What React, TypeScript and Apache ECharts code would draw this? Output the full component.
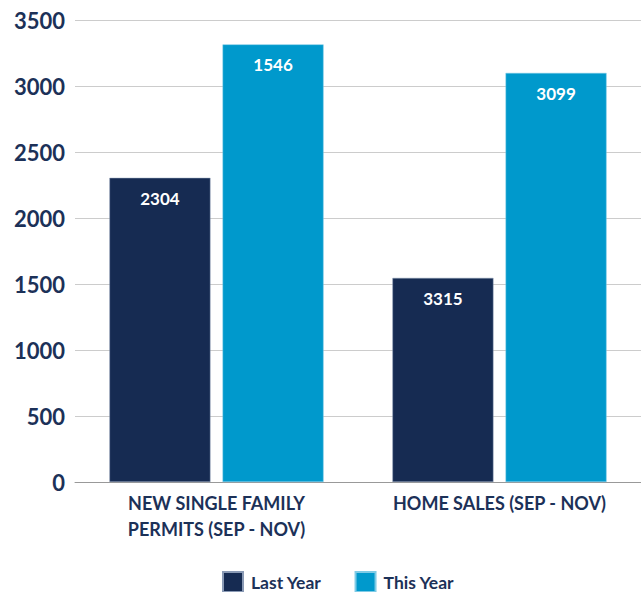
import React, { useEffect, useRef } from "react";
import * as echarts from "echarts";

const categories = ["NEW SINGLE FAMILY\nPERMITS (SEP - NOV)", "HOME SALES (SEP - NOV)"];
const lastYearValues = [2304, 1546];
const thisYearValues = [3315, 3099];
const lastYearLabels = ["2304", "3315"];
const thisYearLabels = ["1546", "3099"];
const seriesNames = ["Last Year", "This Year"];

const NAVY = "#162b52";
const BLUE = "#0099cc";
const TEXT = "#1c3158";
const FONT = "Lato, 'Noto Sans', sans-serif";

export default function App() {
  const ref = useRef<HTMLDivElement>(null);
  useEffect(() => {
    const chart = echarts.init(ref.current!, null, { renderer: "svg" });
    const label = (labels: string[]) => ({
      show: true,
      position: "insideTop",
      distance: 12,
      color: "#ffffff",
      fontFamily: FONT,
      fontWeight: "bold",
      fontSize: 17,
      formatter: (p: any) => labels[p.dataIndex],
    });
    chart.setOption({
      animation: false,
      backgroundColor: "#ffffff",
      grid: { left: 75, right: 0, top: 20, bottom: 110 },
      legend: {
        top: 571,
        left: 222,
        itemWidth: 20,
        itemHeight: 20,
        itemGap: 33,
        icon: "rect",
        padding: 0,
        textStyle: {
          color: TEXT,
          fontFamily: FONT,
          fontSize: 17.5,
          fontWeight: "bold",
          padding: [0, 0, 0, 3],
        },
        data: seriesNames,
      },
      xAxis: {
        type: "category",
        data: categories,
        axisTick: { show: false },
        axisLine: { show: true, lineStyle: { color: "#999999", width: 1 } },
        axisLabel: {
          color: TEXT,
          fontFamily: FONT,
          fontSize: 18,
          fontWeight: "bold",
          lineHeight: 26,
          margin: 8,
          interval: 0,
        },
      },
      yAxis: {
        type: "value",
        min: 0,
        max: 3500,
        interval: 500,
        axisLine: { show: false },
        axisTick: { show: false },
        splitLine: { lineStyle: { color: "#cccccc", width: 1 } },
        axisLabel: {
          color: TEXT,
          fontFamily: FONT,
          fontSize: 22,
          fontWeight: "bold",
          margin: 10,
          formatter: (v: number) => String(v),
        },
      },
      series: [
        {
          name: seriesNames[0],
          type: "bar",
          data: lastYearValues,
          barWidth: 101,
          barGap: "12%",
          itemStyle: { color: NAVY, borderColor: "#8a9ab5", borderWidth: 0.5 },
          label: label(lastYearLabels),
        },
        {
          name: seriesNames[1],
          type: "bar",
          data: thisYearValues,
          barWidth: 101,
          itemStyle: { color: BLUE, borderColor: "#7fcbe6", borderWidth: 0.5 },
          label: label(thisYearLabels),
        },
      ],
    });
    return () => chart.dispose();
  }, []);
  return (
    <div
      ref={ref}
      style={{ position: "fixed", left: 0, top: 0, width: 641, height: 592 }}
    />
  );
}
